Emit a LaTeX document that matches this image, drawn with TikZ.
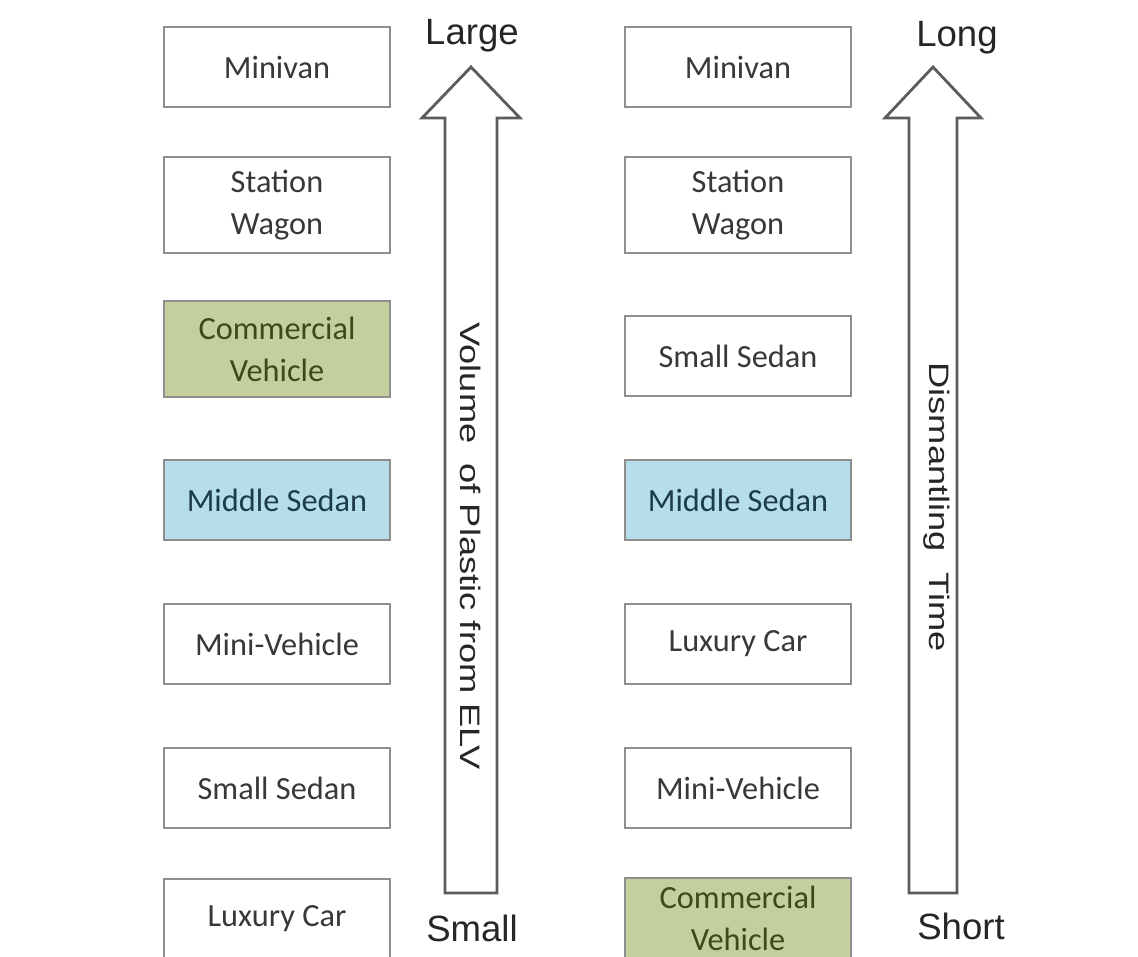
\documentclass[tikz,border=0pt]{standalone}
\usepackage{fontspec}
\setmainfont{Carlito}
\newfontfamily\arialfont{Liberation Sans}
\usepackage{xcolor}
\usetikzlibrary{positioning}
\definecolor{boxgray}{HTML}{8E8E8E}
\definecolor{arrowgray}{HTML}{5C5C5C}
\definecolor{olivefill}{HTML}{C3D09E}
\definecolor{olivetext}{HTML}{3A4A1A}
\definecolor{aquafill}{HTML}{B6DEEA}
\definecolor{aquatext}{HTML}{1D3B4B}
\tikzset{
    car/.style={draw=boxgray, line width=1.3pt, minimum width=5.65cm, minimum height=2cm,
        align=center, inner sep=2pt, text=black!78, font=\fontsize{23}{30}\selectfont},
    twoline/.style={car, minimum height=2.4cm},
    olive/.style={fill=olivefill, text=olivetext},
    aqua/.style={fill=aquafill, text=aquatext},
    endlabel/.style={font=\arialfont\fontsize{26}{28}\selectfont, text=black!85},
    axislabel/.style={font=\arialfont\fontsize{20}{22}\selectfont, text=black!85, rotate=-90, xscale=1.29},
    bigarrow/.style={draw=arrowgray, line width=2pt, fill=white, line join=miter}
}
\newcommand{\upArrow}[4]{% x-centre, shaft half width, head half width, bottom
    \draw[bigarrow] (#1-#2,#4) -- (#1-#2,118) -- (#1-#3,118) -- (#1,67)
        -- (#1+#3,118) -- (#1+#2,118) -- (#1+#2,#4) -- cycle;
}

\begin{document}
\begin{tikzpicture}[x=0.025cm, y=-0.025cm]
    \useasboundingbox (0,0) rectangle (1138,957);

    % left column: volume of plastic
    \node[car] (lminivan) at (277, 67) {Minivan};
    \node[twoline] (lwagon) at (277, 205) {Station\\Wagon};
    \node[twoline, olive] (lcommercial) at (277, 349) {Commercial\\Vehicle};
    \node[car, aqua] (lmiddle) at (277, 500) {Middle Sedan};
    \node[car] (lmini) at (277, 644) {Mini-Vehicle};
    \node[car] (lsmall) at (277, 788) {Small Sedan};
    \node[car] (lluxury) at (277, 919) {Luxury Car};

    \upArrow{471}{26}{49}{893}
    \node[axislabel] (lvolume) at (471, 546) {Volume\ \ of Plastic from ELV};
    \node[endlabel] (llarge) at (472, 36) {Large};
    \node[endlabel] (lsmalllab) at (472, 928) {Small};

    % right column: dismantling time
    \node[car] (rminivan) at (738, 67) {Minivan};
    \node[twoline] (rwagon) at (738, 205) {Station\\Wagon};
    \node[car] (rsmall) at (738, 356) {Small Sedan};
    \node[car, aqua] (rmiddle) at (738, 500) {Middle Sedan};
    \node[car] (rluxury) at (738, 644) {Luxury Car};
    \node[car] (rmini) at (738, 788) {Mini-Vehicle};
    \node[car, olive] (rcommercial) at (738, 918) {Commercial\\Vehicle};

    \upArrow{933}{24}{48}{893}
    \node[axislabel] (rtime) at (937, 507) {Dismantling\ \ Time};
    \node[endlabel] (rlong) at (957, 38) {Long};
    \node[endlabel] (rshort) at (961, 926) {Short};
\end{tikzpicture}
\end{document}
